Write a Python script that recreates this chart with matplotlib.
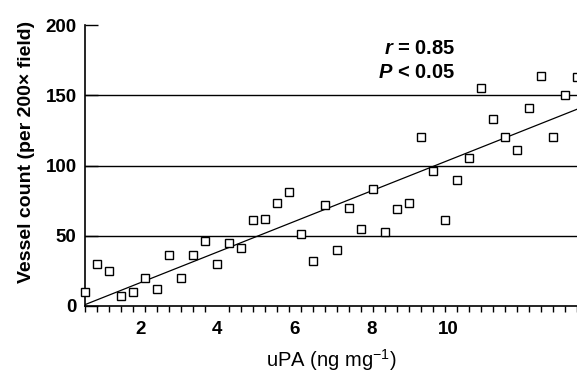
import numpy as np
import matplotlib.pyplot as plt
from matplotlib.ticker import FixedLocator

plt.rcParams['font.family'] = ['Liberation Sans', 'DejaVu Sans']
plt.rcParams['mathtext.fontset'] = 'custom'
plt.rcParams['mathtext.rm'] = 'Liberation Sans'
plt.rcParams['mathtext.it'] = 'Liberation Sans:italic:bold'
plt.rcParams['mathtext.bf'] = 'Liberation Sans:bold'

# uPA (ng/mg) for each sample
upa = [0.57, 0.88, 1.20, 1.51, 1.82, 2.13, 2.44, 2.75, 3.06, 3.37,
       3.69, 4.00, 4.31, 4.62, 4.93, 5.24, 5.55, 5.87, 6.18, 6.49,
       6.80, 7.11, 7.42, 7.73, 8.04, 8.36, 8.67, 8.98, 9.29, 9.60,
       9.91, 10.22, 10.53, 10.85, 11.16, 11.47, 11.78, 12.09, 12.40, 12.71,
       13.02, 13.34]
# vessel count per 200x field
vessels = [10, 30, 25, 7, 10, 20, 12, 36, 20, 36,
           46, 30, 45, 41, 61, 62, 73, 81, 51, 32,
           72, 40, 70, 55, 83, 53, 69, 73, 120, 96,
           61, 90, 105, 155, 133, 120, 111, 141, 164, 120,
           150, 163]

# regression line as drawn
fit_slope = 10.89
fit_intercept = -5.24

xticks = [2, 4, 6, 8, 10]
yticks = [0, 50, 100, 150, 200]
grid_y = [50, 100, 150]

fig = plt.figure(figsize=(5.77, 3.72), dpi=100)
ax = fig.add_axes([85/577, 66/372, 492/577, 281/372])

x_lo, x_hi = upa[0], upa[-1]
ax.set_xlim(x_lo, x_hi)
ax.set_ylim(0, 200)

for g in grid_y:
    ax.axhline(g, color='black', lw=1.0, zorder=1)

xx = np.array([x_lo, x_hi])
ax.plot(xx, fit_intercept + fit_slope*xx, color='black', lw=0.9, zorder=2)

ax.plot(upa, vessels, 's', mfc='white', mec='black', mew=1.0, ms=5.5,
        clip_on=False, zorder=3)

for s in ['top', 'right']:
    ax.spines[s].set_visible(False)
for s in ['left', 'bottom']:
    ax.spines[s].set_linewidth(1.2)

ax.set_xticks(xticks)
ax.xaxis.set_minor_locator(FixedLocator(upa))
ax.tick_params(axis='x', which='major', length=0, pad=11, labelsize=13.5)
ax.tick_params(axis='x', which='minor', direction='out', length=4.5, width=1.0)
for lab in ax.get_xticklabels():
    lab.set_fontweight('bold')

ax.set_yticks(yticks)
ax.tick_params(axis='y', direction='in', length=9, width=1.0, pad=6,
               labelsize=13.5)
for lab in ax.get_yticklabels():
    lab.set_fontweight('bold')

ax.set_xlabel('uPA (ng mg$^{-1}$)', fontsize=14.5, labelpad=6)
ax.set_ylabel('Vessel count (per 200\u00d7 field)', fontsize=14,
              fontweight='bold', va='center')
ax.yaxis.set_label_coords(-0.118, 0.548)

fig.text(455/577, 1 - 49/372, '$r$ = 0.85', fontsize=14.5, ha='right',
         va='center', fontweight='bold')
fig.text(455/577, 1 - 72/372, '$P$ < 0.05', fontsize=14.5, ha='right',
         va='center', fontweight='bold')

fig.savefig('out.png', dpi=100)
